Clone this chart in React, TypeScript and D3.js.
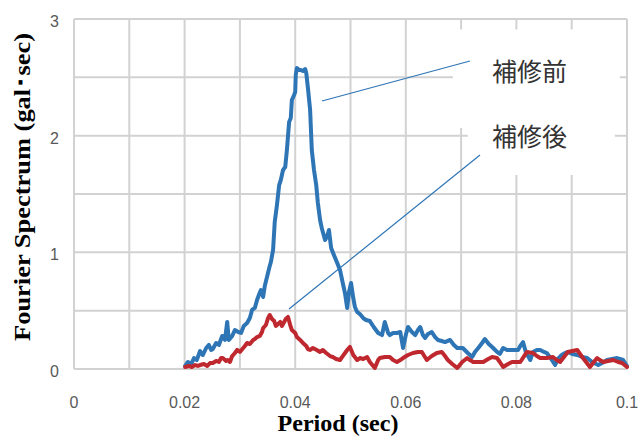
import React from "react";
import * as d3 from "d3";

// Fourier spectrum before repair (補修前): [period (sec), amplitude (gal·sec)]
const beforeRepair: [number, number][] = [
  [0.0201, 0.026], [0.0206, 0.06], [0.0212, 0.043], [0.0217, 0.094], [0.0222, 0.077],
  [0.0228, 0.154], [0.0233, 0.12], [0.0239, 0.18], [0.0244, 0.206], [0.0248, 0.163],
  [0.0251, 0.171], [0.0257, 0.223], [0.0262, 0.206], [0.0268, 0.283], [0.0273, 0.249],
  [0.0277, 0.403], [0.028, 0.249], [0.0286, 0.283], [0.0291, 0.334], [0.0297, 0.317],
  [0.0302, 0.309], [0.0307, 0.369], [0.0313, 0.394], [0.0318, 0.437], [0.0322, 0.506],
  [0.0327, 0.523], [0.0331, 0.591], [0.0335, 0.643], [0.0338, 0.677], [0.0342, 0.617],
  [0.0345, 0.711], [0.0349, 0.789], [0.0353, 0.866], [0.0356, 0.917], [0.036, 1.02],
  [0.0363, 1.26], [0.0367, 1.406], [0.0371, 1.577], [0.0374, 1.62], [0.0378, 1.706],
  [0.0382, 1.731], [0.0385, 1.877], [0.0389, 2.117], [0.0392, 2.151], [0.0394, 2.306],
  [0.0398, 2.349], [0.04, 2.374], [0.0401, 2.52], [0.0403, 2.58], [0.0407, 2.563],
  [0.041, 2.563], [0.0414, 2.554], [0.0418, 2.571], [0.042, 2.537], [0.0423, 2.409],
  [0.0427, 2.22], [0.043, 1.877], [0.0434, 1.706], [0.0438, 1.577], [0.0441, 1.423],
  [0.0445, 1.277], [0.0448, 1.209], [0.0454, 1.106], [0.0458, 1.14], [0.0461, 1.191],
  [0.0465, 1.037], [0.047, 0.977], [0.0476, 0.909], [0.0481, 0.849], [0.0486, 0.737],
  [0.049, 0.651], [0.0494, 0.523], [0.0497, 0.651], [0.0501, 0.737], [0.0505, 0.609],
  [0.0508, 0.531], [0.0512, 0.489], [0.0517, 0.471], [0.0523, 0.437], [0.0528, 0.42],
  [0.0535, 0.411], [0.0542, 0.36], [0.055, 0.309], [0.0557, 0.291], [0.0562, 0.403],
  [0.0568, 0.309], [0.0571, 0.291], [0.0577, 0.309], [0.0584, 0.309], [0.059, 0.317],
  [0.0595, 0.18], [0.06, 0.291], [0.0604, 0.36], [0.0611, 0.317], [0.0617, 0.291],
  [0.0622, 0.334], [0.0626, 0.36], [0.0631, 0.291], [0.0635, 0.266], [0.064, 0.3],
  [0.0647, 0.317], [0.0653, 0.274], [0.0658, 0.249], [0.0665, 0.24], [0.0671, 0.231],
  [0.068, 0.249], [0.0687, 0.206], [0.0693, 0.18], [0.0703, 0.18], [0.0712, 0.137],
  [0.072, 0.103], [0.0725, 0.146], [0.0731, 0.18], [0.0738, 0.223], [0.0743, 0.257],
  [0.075, 0.214], [0.0758, 0.18], [0.0765, 0.146], [0.077, 0.129], [0.0776, 0.18],
  [0.0783, 0.163], [0.0792, 0.163], [0.0803, 0.163], [0.0807, 0.197], [0.0812, 0.231],
  [0.0817, 0.146], [0.0825, 0.077], [0.083, 0.146], [0.0837, 0.163], [0.0843, 0.163],
  [0.085, 0.146], [0.0855, 0.137], [0.0863, 0.086], [0.087, 0.034], [0.0875, 0.086],
  [0.0882, 0.12], [0.0888, 0.137], [0.0893, 0.146], [0.0901, 0.129], [0.091, 0.12],
  [0.0919, 0.103], [0.0928, 0.094], [0.0937, 0.06], [0.0948, 0.034], [0.0955, 0.051],
  [0.0964, 0.077], [0.0973, 0.086], [0.0982, 0.094], [0.0987, 0.086], [0.0993, 0.077],
  [0.1, 0.026],
];

// Fourier spectrum after repair (補修後): [period (sec), amplitude (gal·sec)]
const afterRepair: [number, number][] = [
  [0.0201, 0.017], [0.0208, 0.026], [0.0213, 0.017], [0.0219, 0.034], [0.0224, 0.026],
  [0.0228, 0.034], [0.0235, 0.043], [0.0241, 0.026], [0.0246, 0.051], [0.0251, 0.051],
  [0.0257, 0.069], [0.0262, 0.06], [0.0266, 0.094], [0.0269, 0.094], [0.0275, 0.069],
  [0.0278, 0.077], [0.0282, 0.06], [0.0286, 0.111], [0.0291, 0.137], [0.0295, 0.163],
  [0.03, 0.146], [0.0306, 0.18], [0.0309, 0.197], [0.0313, 0.223], [0.0318, 0.214],
  [0.0324, 0.249], [0.0327, 0.257], [0.0331, 0.274], [0.0336, 0.283], [0.034, 0.317],
  [0.0342, 0.351], [0.0347, 0.377], [0.0351, 0.437], [0.0354, 0.463], [0.0358, 0.429],
  [0.0362, 0.411], [0.0365, 0.369], [0.0369, 0.386], [0.0373, 0.403], [0.0376, 0.369],
  [0.038, 0.403], [0.0383, 0.429], [0.0387, 0.446], [0.0391, 0.377], [0.0394, 0.334],
  [0.04, 0.309], [0.0403, 0.274], [0.0409, 0.249], [0.0414, 0.223], [0.042, 0.197],
  [0.0423, 0.171], [0.0427, 0.163], [0.0432, 0.18], [0.0439, 0.163], [0.0445, 0.146],
  [0.045, 0.163], [0.0456, 0.137], [0.0463, 0.111], [0.0468, 0.103], [0.0474, 0.086],
  [0.0481, 0.077], [0.0486, 0.111], [0.0494, 0.163], [0.0499, 0.189], [0.0505, 0.12],
  [0.0512, 0.077], [0.0517, 0.094], [0.0523, 0.086], [0.053, 0.103], [0.0535, 0.06],
  [0.0544, 0.009], [0.055, 0.077], [0.0553, 0.094], [0.0562, 0.103], [0.0571, 0.103],
  [0.0577, 0.077], [0.0584, 0.06], [0.059, 0.077], [0.0595, 0.094], [0.0604, 0.12],
  [0.0613, 0.137], [0.0622, 0.146], [0.0629, 0.146], [0.0638, 0.077], [0.0647, 0.111],
  [0.0656, 0.137], [0.0665, 0.146], [0.0671, 0.111], [0.0676, 0.077], [0.0684, 0.043],
  [0.0693, 0.009], [0.0702, 0.06], [0.0711, 0.094], [0.0716, 0.077], [0.0722, 0.06],
  [0.0731, 0.06], [0.074, 0.06], [0.0749, 0.086], [0.0756, 0.103], [0.0765, 0.094],
  [0.077, 0.06], [0.0776, 0.017], [0.0785, 0.043], [0.0792, 0.06], [0.0799, 0.06],
  [0.0807, 0.06], [0.0814, 0.111], [0.0819, 0.146], [0.083, 0.137], [0.0837, 0.111],
  [0.0843, 0.094], [0.0855, 0.094], [0.0866, 0.103], [0.0873, 0.077], [0.0879, 0.06],
  [0.0886, 0.103], [0.0893, 0.146], [0.0901, 0.154], [0.091, 0.163], [0.0919, 0.103],
  [0.0926, 0.06], [0.0933, 0.017], [0.094, 0.06], [0.0946, 0.094], [0.0951, 0.077],
  [0.0957, 0.06], [0.0966, 0.069], [0.0975, 0.077], [0.0984, 0.06], [0.0991, 0.051],
  [0.1, 0.017],
];

const xTickValues = [0, 0.02, 0.04, 0.06, 0.08, 0.1];
const xTickLabels = ["0", "0.02", "0.04", "0.06", "0.08", "0.1"];
const yTickValues = [0, 1, 2, 3];
const yTickLabels = ["0", "1", "2", "3"];

// Callouts: label, label anchor, leader line start (on curve side) and end
const callouts = [
  { label: "補修前", at: [0.0756, 2.47], from: [0.04485, 2.297], to: [0.0716, 2.64] },
  { label: "補修後", at: [0.0756, 1.911], from: [0.03888, 0.514], to: [0.07342, 1.834] },
];

const W = 641;
const H = 438;
const BLUE = "#2e75b6";
const RED = "#c0282f";
const GRID = "#d2d2d2";

export default function App() {
  const x = d3.scaleLinear().domain([0, 0.1]).range([74, 627]);
  const y = d3.scaleLinear().domain([0, 3]).range([369, 19]);

  const line = d3
    .line<[number, number]>()
    .x((d) => x(d[0]))
    .y((d) => y(d[1]));

  const xGrid = d3.range(0, 11).map((i) => i / 100);
  const yGrid = d3.range(0, 7).map((i) => i / 2);

  return (
    <svg
      width={W}
      height={H}
      style={{ position: "absolute", left: 0, top: 0, background: "#fff" }}
    >
      <rect x={0} y={0} width={W} height={H} fill="#fff" />
      {/* grid */}
      <g stroke={GRID} strokeWidth={2}>
        {xGrid.map((v) => (
          <line key={"vx" + v} x1={x(v)} x2={x(v)} y1={y(0)} y2={y(3)} />
        ))}
        {yGrid.map((v) => (
          <line key={"hy" + v} x1={x(0)} x2={x(0.1)} y1={y(v)} y2={y(v)} />
        ))}
      </g>

      {/* label backgrounds */}
      <rect x={x(0.0685)} y={y(2.91)} width={x(0.0987) - x(0.0685)} height={y(2.066) - y(2.91)} fill="#fff" />
      <rect x={x(0.0712)} y={y(2.066)} width={x(0.0978) - x(0.0712)} height={y(1.663) - y(2.066)} fill="#fff" />

      {/* series */}
      <path d={line(beforeRepair) ?? ""} fill="none" stroke={BLUE} strokeWidth={4} strokeLinejoin="round" strokeLinecap="round" />
      <path d={line(afterRepair) ?? ""} fill="none" stroke={RED} strokeWidth={4} strokeLinejoin="round" strokeLinecap="round" />

      {/* callouts */}
      {callouts.map((c) => (
        <g key={c.label}>
          <line
            x1={x(c.from[0])}
            y1={y(c.from[1])}
            x2={x(c.to[0])}
            y2={y(c.to[1])}
            stroke={BLUE}
            strokeWidth={1.2}
          />
          <text
            x={x(c.at[0])}
            y={y(c.at[1])}
            fontFamily="'Noto Sans CJK JP', sans-serif"
            fontSize={25}
            fill="#333"
          >
            {c.label}
          </text>
        </g>
      ))}

      {/* tick labels */}
      <g fontFamily="'Liberation Sans', Arial, sans-serif" fontSize={16} fill="#595959">
        {xTickValues.map((v, i) => (
          <text key={"xt" + v} x={x(v)} y={408} textAnchor="middle">
            {xTickLabels[i]}
          </text>
        ))}
        {yTickValues.map((v, i) => (
          <text key={"yt" + v} x={59} y={y(v) + 8} textAnchor="end">
            {yTickLabels[i]}
          </text>
        ))}
      </g>

      {/* axis titles */}
      <text
        x={338}
        y={431}
        textAnchor="middle"
        fontFamily="'Liberation Serif', 'Times New Roman', serif"
        fontWeight="bold"
        fontSize={23}
        fill="#000"
        textLength={121}
        lengthAdjust="spacingAndGlyphs"
      >
        Period (sec)
      </text>
      <text
        transform="translate(30,187) rotate(-90)"
        textAnchor="middle"
        fontFamily="'Liberation Serif', 'Times New Roman', serif"
        fontWeight="bold"
        fontSize={24}
        fill="#000"
        textLength={308}
        lengthAdjust="spacingAndGlyphs"
      >
        Fourier Spectrum (gal･sec)
      </text>
    </svg>
  );
}
